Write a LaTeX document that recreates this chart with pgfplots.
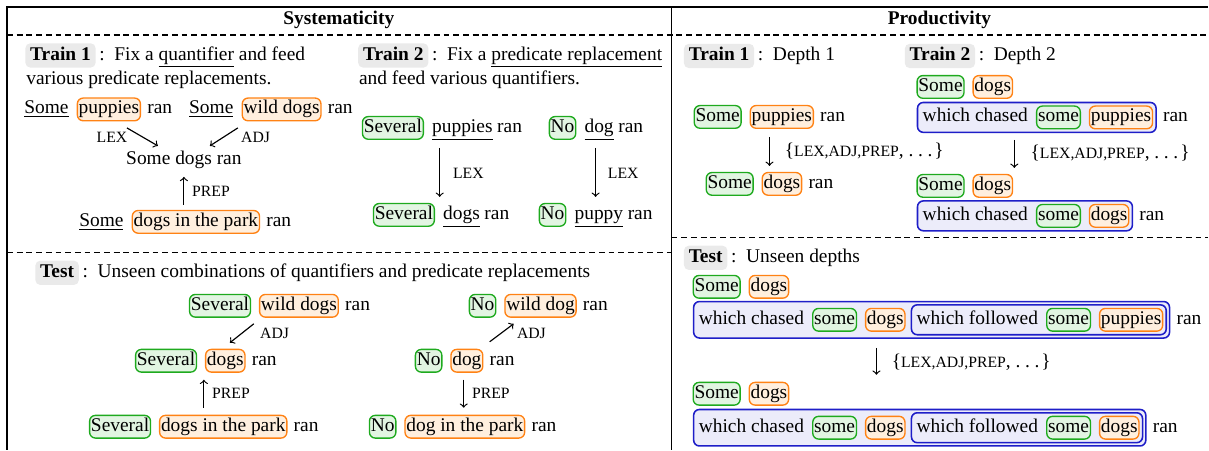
\documentclass[border=0pt]{standalone}
\usepackage{fontspec}
\setmainfont{Liberation Serif}
\usepackage{pgfplots}
\pgfplotsset{compat=1.18}
\usetikzlibrary{fit,positioning}
\definecolor{gB}{RGB}{30,170,30}
\definecolor{gF}{RGB}{226,245,226}
\definecolor{oB}{RGB}{255,130,20}
\definecolor{oF}{RGB}{255,239,222}
\definecolor{bB}{RGB}{30,30,200}
\definecolor{bF}{RGB}{236,236,250}
\definecolor{tF}{RGB}{234,234,234}
\newcommand{\scf}{\fontsize{8.1}{9}\selectfont}
\newcommand{\ops}{\{{\scf LEX,ADJ,PREP}, .\kern2.4pt.\kern2.4pt.\kern1pt\}}
\tikzset{
  w/.style={inner sep=1pt, text height=7pt, text depth=2.3pt},
  gb/.style={w, draw=gB, fill=gF, rounded corners=3pt, line width=0.7pt, inner xsep=0.7pt, inner ysep=1.2pt},
  ob/.style={w, draw=oB, fill=oF, rounded corners=3pt, line width=0.7pt, inner xsep=0.7pt, inner ysep=1.2pt},
  tb/.style={w, fill=tF, rounded corners=2.5pt, inner xsep=2.5pt, inner ysep=1.6pt, font=\bfseries},
  bb/.style={draw=bB, fill=bF, rounded corners=3pt, line width=0.8pt, inner sep=1.5pt},
  sc/.style={font=\scf, inner sep=1pt},
  ar/.style={->, line width=0.6pt},
  dl/.style={dash pattern=on 3pt off 2pt, line width=0.6pt},
}
\begin{document}
\begin{tikzpicture}
\begin{axis}[hide axis, set layers, clip=false, x=0.515pt, y=0.515pt, y dir=reverse,
  xmin=0, xmax=1209, ymin=0, ymax=450]
\addplot[draw=none] coordinates {(0,0) (1209,450)};
\path (0,0) rectangle (1209,450);
% frame
\draw[line width=0.8pt] (7,450) -- (7,7) -- (1209,7);
\draw[line width=0.8pt] (672,7) -- (672,450);
\draw[dl] (7,35) -- (1209,35);
\draw[dl] (7,253) -- (672,253);
\draw[dl] (672,238) -- (1209,238);
\node[font=\bfseries] at (339,20) {Systematicity};
\node[font=\bfseries] at (940,20) {Productivity};
% ---------------- Systematicity Train 1
\node[tb, anchor=west] (s1) at (25,55.5) {Train 1};
\node[w, right=0.5pt of s1] {:~~Fix a \underline{quantifier} and feed};
\node[w, anchor=west] at (24,80) {various predicate replacements.};
\node[w, anchor=west] (a1) at (22,109.5) {\underline{Some}};
\node[ob, right=3pt of a1] (a2) {puppies};
\node[w, right=2pt of a2] {ran};
\node[w, anchor=west] (b1) at (187,109.5) {\underline{Some}};
\node[ob, right=3pt of b1] (b2) {wild dogs};
\node[w, right=2pt of b2] {ran};
\draw[ar] (127,128) -- (158,146);
\node[sc] at (112,137) {LEX};
\draw[ar] (238,128) -- (210,146);
\node[sc, anchor=west] at (239,137) {ADJ};
\node[w] at (184,160) {Some dogs ran};
\draw[ar] (184,205) -- (184,177);
\node[sc, anchor=west] at (190,191) {PREP};
\node[w, anchor=west] (c1) at (77,222) {\underline{Some}};
\node[ob, right=3pt of c1] (c2) {dogs in the park};
\node[w, right=2pt of c2] {ran};
% ---------------- Systematicity Train 2
\node[tb, anchor=west] (s2) at (358,55.5) {Train 2};
\node[w, right=0.5pt of s2] {:~~Fix a \underline{predicate replacement}};
\node[w, anchor=west] at (357,80) {and feed various quantifiers.};
\node[gb, anchor=west] (d1) at (362,128) {Several};
\node[w, right=3pt of d1] (d2) {\underline{puppies}};
\node[w, right=0pt of d2] {ran};
\node[gb, anchor=west] (e1) at (549,128) {No};
\node[w, right=3pt of e1] (e2) {\underline{dog}};
\node[w, right=0pt of e2] {ran};
\draw[ar] (440,148) -- (440,197);
\node[sc, anchor=west] at (451,173) {LEX};
\draw[ar] (596,148) -- (596,197);
\node[sc, anchor=west] at (606,173) {LEX};
\node[gb, anchor=west] (f1) at (373,215) {Several};
\node[w, right=3pt of f1] (f2) {\underline{dogs}};
\node[w, right=0pt of f2] {ran};
\node[gb, anchor=west] (g1) at (539,215) {No};
\node[w, right=3pt of g1] (g2) {\underline{puppy}};
\node[w, right=0pt of g2] {ran};
% ---------------- Systematicity Test
\node[tb, anchor=west] (s3) at (35,273) {Test};
\node[w, right=0.5pt of s3] {:~~Unseen combinations of quantifiers and predicate replacements};
\node[gb, anchor=west] (h1) at (189,306) {Several};
\node[ob, right=4pt of h1] (h2) {wild dogs};
\node[w, right=2pt of h2] {ran};
\draw[ar] (254,324) -- (230,343);
\node[sc, anchor=west] at (258,334) {ADJ};
\node[gb, anchor=west] (i1) at (135,361) {Several};
\node[ob, right=4pt of i1] (i2) {dogs};
\node[w, right=2pt of i2] {ran};
\draw[ar] (204,408) -- (204,380);
\node[sc, anchor=west] at (210,394) {PREP};
\node[gb, anchor=west] (j1) at (89,427) {Several};
\node[ob, right=4pt of j1] (j2) {dogs in the park};
\node[w, right=2pt of j2] {ran};
\node[gb, anchor=west] (k1) at (469,306) {No};
\node[ob, right=4pt of k1] (k2) {wild dog};
\node[w, right=2pt of k2] {ran};
\draw[ar] (490,342) -- (514,324);
\node[sc, anchor=west] at (515,334) {ADJ};
\node[gb, anchor=west] (l1) at (415,361) {No};
\node[ob, right=4pt of l1] (l2) {dog};
\node[w, right=2pt of l2] {ran};
\draw[ar] (464,380) -- (464,408);
\node[sc, anchor=west] at (470,394) {PREP};
\node[gb, anchor=west] (m1) at (369,427) {No};
\node[ob, right=4pt of m1] (m2) {dog in the park};
\node[w, right=2pt of m2] {ran};
% ---------------- Productivity Train 1
\node[tb, anchor=west] (p1) at (684,56) {Train 1};
\node[w, right=0.5pt of p1] {:~~Depth 1};
\node[gb, anchor=west] (n1) at (694,117) {Some};
\node[ob, right=4pt of n1] (n2) {puppies};
\node[w, right=2pt of n2] {ran};
\draw[ar] (770,137) -- (770,166);
\node[w, anchor=west] at (783,152) {\ops};
\node[gb, anchor=west] (o1) at (706,184) {Some};
\node[ob, right=4pt of o1] (o2) {dogs};
\node[w, right=2pt of o2] {ran};
% ---------------- Productivity Train 2
\node[tb, anchor=west] (p2) at (905,56) {Train 2};
\node[w, right=0.5pt of p2] {:~~Depth 2};
\node[gb, anchor=west] (r1) at (917,87) {Some};
\node[ob, right=4pt of r1] {dogs};
\node[w, anchor=west] (r3) at (921,117.5) {which chased};
\node[gb, right=3pt of r3] (r4) {some};
\node[ob, right=4pt of r4] (r5) {puppies};
\begin{pgfonlayer}{axis background}
\node[bb, fit=(r3)(r5)] (r6) {};
\end{pgfonlayer}
\node[w, right=2pt of r6] {ran};
\draw[ar] (1015,140) -- (1015,168);
\node[w, anchor=west] at (1029,154) {\ops};
\node[gb, anchor=west] (u1) at (917,186) {Some};
\node[ob, right=4pt of u1] {dogs};
\node[w, anchor=west] (u3) at (921,216) {which chased};
\node[gb, right=3pt of u3] (u4) {some};
\node[ob, right=4pt of u4] (u5) {dogs};
\begin{pgfonlayer}{axis background}
\node[bb, fit=(u3)(u5)] (u6) {};
\end{pgfonlayer}
\node[w, right=2pt of u6] {ran};
% ---------------- Productivity Test
\node[tb, anchor=west] (p3) at (684,258) {Test};
\node[w, right=0.5pt of p3] {:~~Unseen depths};
\node[gb, anchor=west] (v1) at (693,287) {Some};
\node[ob, right=4pt of v1] {dogs};
\node[w, anchor=west] (q1) at (697,320) {which chased};
\node[gb, right=3pt of q1] (q2) {some};
\node[ob, right=4pt of q2] (q3) {dogs};
\node[w, right=4.5pt of q3] (q4) {which followed};
\node[gb, right=3pt of q4] (q5) {some};
\node[ob, right=4pt of q5] (q6) {puppies};
\begin{pgfonlayer}{axis background}
\node[inner sep=1.5pt, fit=(q4)(q6)] (qi) {};
\node[bb, fit=(q1)(qi)] (qo) {};
\node[bb, fit=(q4)(q6)] {};
\end{pgfonlayer}
\node[w, right=2pt of qo] {ran};
\draw[ar] (877,348) -- (877,375);
\node[w, anchor=west] at (890,363) {\ops};
\node[gb, anchor=west] (x1) at (693,394) {Some};
\node[ob, right=4pt of x1] {dogs};
\node[w, anchor=west] (y1) at (697,428) {which chased};
\node[gb, right=3pt of y1] (y2) {some};
\node[ob, right=4pt of y2] (y3) {dogs};
\node[w, right=4.5pt of y3] (y4) {which followed};
\node[gb, right=3pt of y4] (y5) {some};
\node[ob, right=4pt of y5] (y6) {dogs};
\begin{pgfonlayer}{axis background}
\node[inner sep=1.5pt, fit=(y4)(y6)] (yi) {};
\node[bb, fit=(y1)(yi)] (yo) {};
\node[bb, fit=(y4)(y6)] {};
\end{pgfonlayer}
\node[w, right=2pt of yo] {ran};
\end{axis}
\end{tikzpicture}
\end{document}
